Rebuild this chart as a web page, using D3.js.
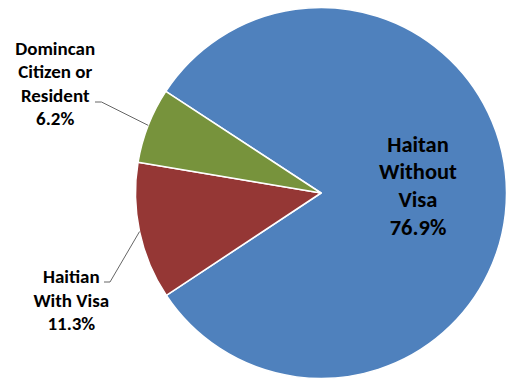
<!DOCTYPE html>
<html>
<head>
<meta charset="utf-8">
<script src="https://cdn.jsdelivr.net/npm/d3@7/dist/d3.min.js"></script>
<style>
  html, body { margin: 0; padding: 0; background: #fff; }
  svg { display: block; }
  text { font-family: Carlito, Calibri, Lato, "Open Sans", sans-serif; font-weight: 700; fill: #000; }
</style>
</head>
<body>
<svg id="chart" width="506" height="379"></svg>
<script>
// Slice data, clockwise from the first slice
const categories = ["Haitan Without Visa", "Haitian With Visa", "Domincan Citizen or Resident"];
const labelLines = [["Haitan", "Without", "Visa"], ["Haitian", "With Visa"], ["Domincan", "Citizen or", "Resident"]];
const values = [76.9, 11.3, 6.2];
const colors = ["#4F81BD", "#953735", "#77933C"];

const width = 506, height = 379;
const cx = 321, cy = 193, radius = 185.5;
const startDeg = -56.8;

const svg = d3.select("#chart");
const g = svg.append("g").attr("transform", `translate(${cx},${cy})`);

const pie = d3.pie()
  .sort(null)
  .value(d => d.value)
  .startAngle(startDeg * Math.PI / 180)
  .endAngle(startDeg * Math.PI / 180 + 2 * Math.PI);

const data = categories.map((c, i) => ({ name: c, lines: labelLines[i], value: values[i], color: colors[i] }));
const arcs = pie(data);

const arc = d3.arc().innerRadius(0).outerRadius(radius);

g.selectAll("path.slice")
  .data(arcs)
  .join("path")
  .attr("class", "slice")
  .attr("d", arc)
  .attr("fill", d => d.data.color)
  .attr("stroke", "#fff")
  .attr("stroke-width", 1.5)
  .attr("stroke-linejoin", "round");

// Point on the rim at a slice's mid angle
function rimPoint(d, r) {
  const a = (d.startAngle + d.endAngle) / 2;
  return [r * Math.sin(a), -r * Math.cos(a)];
}

const fmt = v => v.toFixed(1) + "%";

// Label layout: inside label for the large slice, outside labels with leaders for the small ones
const layout = [
  { inside: true, dx: 97, firstBaseline: -41.5, step: 27.8, size: 22.5 },
  { inside: false, x: 71.3, firstBaseline: 283.3, step: 23.3, size: 19, leaderStart: [104, 282], elbow: [110, 282] },
  { inside: false, x: 55.2, firstBaseline: 55, step: 23.3, size: 19, leaderStart: [95, 102], elbow: [101.5, 102] }
];

arcs.forEach((d, i) => {
  const L = layout[i];
  const lines = d.data.lines.concat([fmt(d.data.value)]);
  let tx, ty;
  if (L.inside) {
    const p = rimPoint(d, L.dx);
    tx = cx + p[0];
    ty = cy + L.firstBaseline;
  } else {
    tx = L.x;
    ty = L.firstBaseline;
    const end = rimPoint(d, radius);
    svg.append("polyline")
      .attr("points", [L.leaderStart, L.elbow, [cx + end[0], cy + end[1]]].map(p => p.join(",")).join(" "))
      .attr("fill", "none")
      .attr("stroke", "#666")
      .attr("stroke-width", 1);
  }
  const t = svg.append("text")
    .attr("text-anchor", "middle")
    .attr("font-size", L.size + "px");
  lines.forEach((ln, k) => {
    t.append("tspan").attr("x", tx).attr("y", ty + k * L.step).text(ln);
  });
});
</script>
</body>
</html>
